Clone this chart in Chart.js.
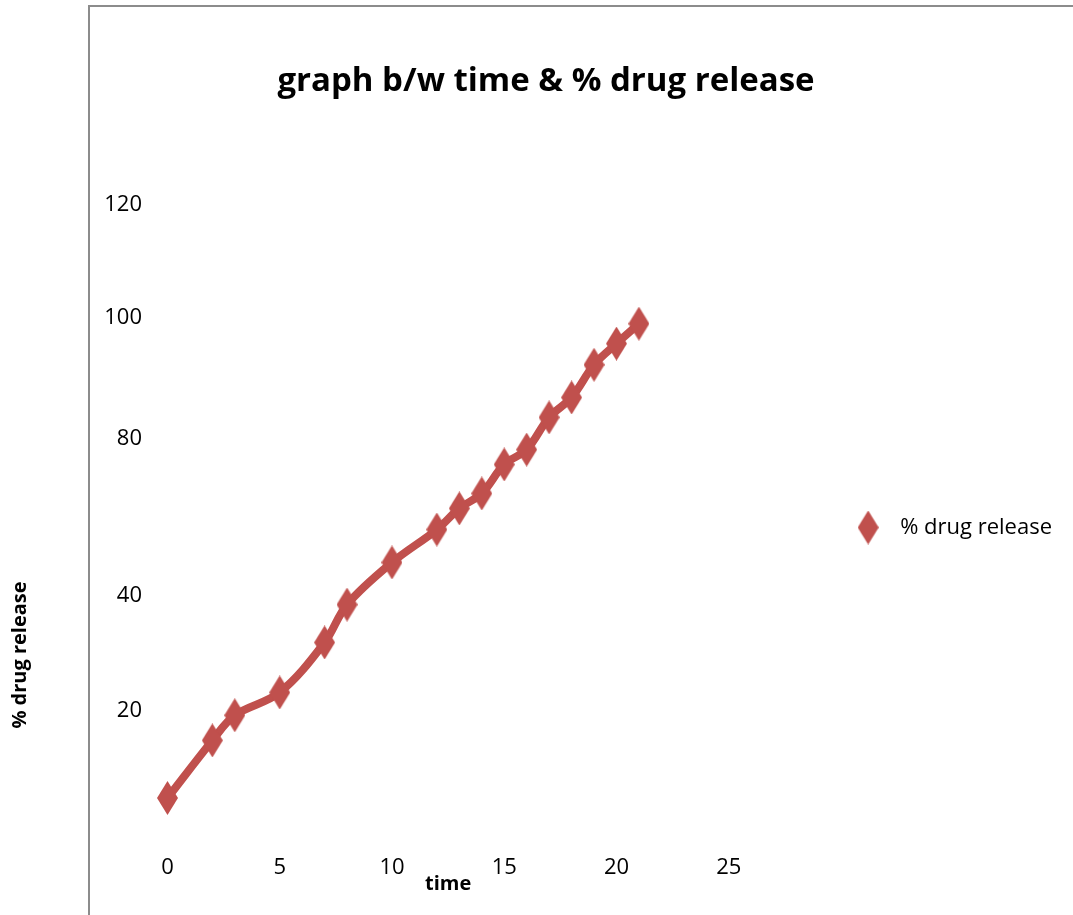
<!DOCTYPE html>
<html>
<head>
<meta charset="utf-8">
<script src="https://cdn.jsdelivr.net/npm/chart.js@4.4.1/dist/chart.umd.min.js"></script>
<style>
  html, body { margin: 0; padding: 0; background: #fff; }
</style>
</head>
<body>
<canvas id="releaseChart" width="1073" height="915"></canvas>
<script>
// time points and % drug release readings
const timePoints = [0, 2, 3, 5, 7, 8, 10, 12, 13, 14, 15, 16, 17, 18, 19, 20, 21];
const drugRelease = [4.3, 14.6, 19.1, 23.1, 31.8, 38.4, 48.4, 56.8, 62.2, 66.0, 73.4, 77.2, 83.5, 86.8, 92.2, 95.7, 99.0];

const xTicks = [0, 5, 10, 15, 20, 25];
const yTicks = [0, 20, 40, 80, 100, 120];
const yTickLabels = ['', '20', '40', '80', '100', '120'];

const RED = '#C0504D';

// linear scale whose ticks sit on uneven stops (value -> fraction of axis)
class PiecewiseScale extends Chart.LinearScale {
  getPixelForValue(value) {
    if (value === null || value === undefined || isNaN(value)) return NaN;
    const vals = yTicks, stops = this.options.stops;
    let i = 1;
    while (i < vals.length - 1 && value > vals[i]) i++;
    const t = (value - vals[i - 1]) / (vals[i] - vals[i - 1]);
    return this.getPixelForDecimal(stops[i - 1] + t * (stops[i] - stops[i - 1]));
  }
  getValueForPixel(pixel) {
    const vals = yTicks, stops = this.options.stops;
    const d = this.getDecimalForPixel(pixel);
    let i = 1;
    while (i < stops.length - 1 && d > stops[i]) i++;
    const t = (d - stops[i - 1]) / (stops[i] - stops[i - 1]);
    return vals[i - 1] + t * (vals[i] - vals[i - 1]);
  }
}
PiecewiseScale.id = 'piecewise';
PiecewiseScale.defaults = Chart.LinearScale.defaults;
Chart.register(PiecewiseScale);

// tall diamond marker used for the points and the legend
function makeDiamond(w, h, color) {
  const c = document.createElement('canvas');
  c.width = w;
  c.height = h;
  const g = c.getContext('2d');
  g.fillStyle = color;
  g.beginPath();
  g.moveTo(w / 2, 0);
  g.lineTo(w, h / 2);
  g.lineTo(w / 2, h);
  g.lineTo(0, h / 2);
  g.closePath();
  g.fill();
  return c;
}
const diamond = makeDiamond(21, 34, RED);

// grey frame on the left/top and the rotated y title
const framePlugin = {
  id: 'frame',
  beforeDraw(chart) {
    const ctx = chart.ctx;
    ctx.save();
    ctx.fillStyle = '#fff';
    ctx.fillRect(0, 0, chart.width, chart.height);
    ctx.strokeStyle = '#8c8c8c';
    ctx.lineWidth = 2;
    ctx.beginPath();
    ctx.moveTo(89, chart.height);
    ctx.lineTo(89, 6);
    ctx.lineTo(chart.width, 6);
    ctx.stroke();
    ctx.restore();
  },
  afterDraw(chart) {
    const ctx = chart.ctx;
    ctx.save();
    ctx.translate(20, 655);
    ctx.rotate(-Math.PI / 2);
    ctx.font = 'bold 20px "Open Sans"';
    ctx.fillStyle = '#000';
    ctx.textAlign = 'center';
    ctx.textBaseline = 'middle';
    ctx.fillText('% drug release', 0, 0);
    ctx.restore();
  }
};

Chart.defaults.font.family = '"Open Sans", sans-serif';
Chart.defaults.color = '#000';

const ctx = document.getElementById('releaseChart').getContext('2d');
new Chart(ctx, {
  type: 'scatter',
  data: {
    datasets: [{
      label: '% drug release',
      data: timePoints.map((t, i) => ({ x: t, y: drugRelease[i] })),
      showLine: true,
      borderColor: RED,
      backgroundColor: RED,
      borderWidth: 8,
      tension: 0.35,
      pointStyle: diamond,
      pointRadius: 10,
      pointHoverRadius: 10
    }]
  },
  options: {
    responsive: false,
    animation: false,
    layout: { padding: { left: 30, right: 11, top: 0, bottom: 0 } },
    scales: {
      x: {
        type: 'linear',
        min: -1,
        max: 26,
        afterBuildTicks: s => { s.ticks = xTicks.map(v => ({ value: v })); },
        afterFit: s => { s.height = 93; },
        grid: { display: false, drawTicks: false },
        border: { display: false },
        ticks: { padding: 33, font: { size: 22 }, color: '#000', autoSkip: false, maxRotation: 0 },
        title: {
          display: true,
          text: 'time',
          color: '#000',
          font: { size: 20, weight: 'bold' },
          padding: { top: 0, bottom: 19 }
        }
      },
      y: {
        type: 'piecewise',
        min: 0,
        max: 120,
        stops: [0, 0.181, 0.367, 0.621, 0.817, 1],
        afterBuildTicks: s => { s.ticks = yTicks.map(v => ({ value: v })); },
        afterFit: s => { s.width = 115; },
        grid: { display: false, drawTicks: false },
        border: { display: false },
        ticks: {
          padding: 3,
          font: { size: 22 },
          color: '#000',
          autoSkip: false,
          callback: (value, index) => yTickLabels[index]
        }
      }
    },
    plugins: {
      title: {
        display: true,
        text: 'graph b/w time & % drug release',
        color: '#000',
        font: { size: 33, weight: 'bold' },
        padding: { top: 62, bottom: 103 }
      },
      legend: {
        position: 'right',
        align: 'center',
        fullSize: false,
        maxWidth: 400,
        title: { display: true, text: ' ', font: { size: 12 }, padding: { top: 7, bottom: 7 } },
        labels: {
          usePointStyle: true,
          pointStyleWidth: 42,
          padding: 96,
          color: '#000',
          font: { size: 22 }
        }
      },
      tooltip: { enabled: false }
    }
  },
  plugins: [framePlugin]
});
</script>
</body>
</html>
